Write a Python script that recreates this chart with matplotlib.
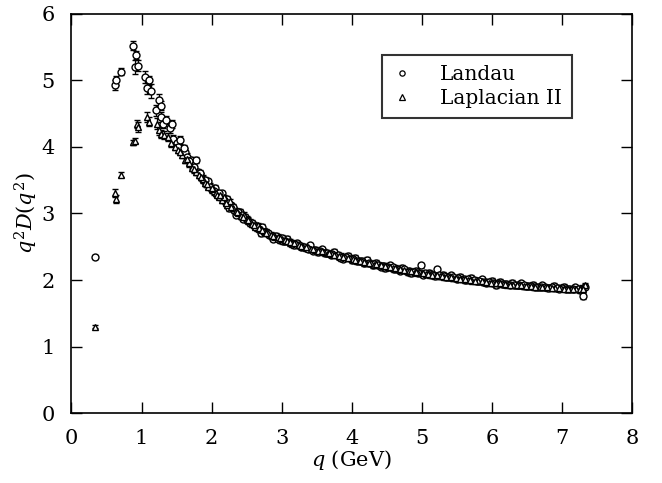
import matplotlib
matplotlib.use("Agg")
import matplotlib.pyplot as plt
from matplotlib.lines import Line2D

plt.rcParams['font.family'] = 'DejaVu Serif'
plt.rcParams['mathtext.fontset'] = 'dejavuserif'

# Landau gauge (circulos)
q_landau = [0.33, 0.62, 0.63, 0.70, 0.88, 0.90, 0.92, 0.95, 1.05, 1.08, 1.10, 1.13,
            1.20, 1.25, 1.27, 1.28, 1.30, 1.35, 1.40, 1.43, 1.45, 1.50, 1.55, 1.58,
            1.62, 1.65, 1.70, 1.72, 1.78, 1.80, 1.85, 1.88, 1.92, 1.95, 2.00, 2.05,
            2.08, 2.12, 2.15, 2.20, 2.22, 2.25, 2.28, 2.32, 2.35, 2.40, 2.45, 2.48,
            2.52, 2.55, 2.60, 2.65, 2.70, 2.72, 2.78, 2.82, 2.88, 2.92, 2.98, 3.02,
            3.08, 3.12, 3.18, 3.22, 3.28, 3.35, 3.40, 3.45, 3.52, 3.58, 3.62, 3.70,
            3.75, 3.82, 3.88, 3.95, 4.00, 4.05, 4.12, 4.18, 4.22, 4.30, 4.35, 4.42,
            4.48, 4.55, 4.60, 4.68, 4.72, 4.80, 4.85, 4.92, 4.98, 5.02, 5.10, 5.18,
            5.22, 5.30, 5.35, 5.42, 5.50, 5.55, 5.62, 5.70, 5.78, 5.85, 5.92, 6.00,
            6.05, 6.12, 6.20, 6.28, 6.35, 6.42, 6.50, 6.58, 6.65, 6.72, 6.80, 6.88,
            6.95, 7.02, 7.10, 7.18, 7.25, 7.30, 7.32]
d_landau = [2.35, 4.93, 5.00, 5.13, 5.52, 5.20, 5.38, 5.22, 5.05, 4.88, 5.00, 4.84,
            4.55, 4.70, 4.62, 4.45, 4.35, 4.40, 4.28, 4.35, 4.12, 4.05, 4.10, 3.95,
            3.92, 3.85, 3.80, 3.72, 3.80, 3.62, 3.55, 3.50, 3.45, 3.48, 3.35, 3.38,
            3.28, 3.25, 3.30, 3.15, 3.22, 3.08, 3.12, 3.05, 2.98, 3.02, 2.92, 2.95,
            2.88, 2.85, 2.82, 2.78, 2.70, 2.80, 2.72, 2.68, 2.62, 2.66, 2.60, 2.58,
            2.62, 2.55, 2.52, 2.55, 2.50, 2.48, 2.52, 2.44, 2.42, 2.46, 2.40, 2.38,
            2.42, 2.35, 2.32, 2.36, 2.30, 2.33, 2.28, 2.25, 2.30, 2.22, 2.26, 2.20,
            2.18, 2.22, 2.16, 2.14, 2.18, 2.12, 2.10, 2.14, 2.22, 2.08, 2.11, 2.06,
            2.16, 2.08, 2.04, 2.07, 2.02, 2.05, 2.00, 2.03, 1.98, 2.01, 1.96, 1.99,
            1.92, 1.97, 1.94, 1.96, 1.92, 1.95, 1.91, 1.93, 1.89, 1.92, 1.88, 1.91,
            1.87, 1.90, 1.86, 1.89, 1.85, 1.76, 1.90]
e_landau = [0.03, 0.08, 0.07, 0.05, 0.07, 0.10, 0.06, 0.08, 0.09, 0.08, 0.07, 0.10,
            0.08, 0.09, 0.07, 0.08, 0.07, 0.06, 0.07, 0.06, 0.06, 0.07, 0.06, 0.05,
            0.06, 0.05, 0.05, 0.05, 0.05, 0.05, 0.05, 0.04, 0.05, 0.04, 0.05, 0.04] + [0.04] * 91

# Landau, segundo conjunto de momentos (zona densa)
q_landau_2 = [1.52, 1.60, 1.68, 1.75, 1.83, 1.90, 1.98, 2.03, 2.10, 2.18, 2.24, 2.30,
              2.38, 2.43, 2.50, 2.58, 2.63, 2.68, 2.75, 2.80, 2.86, 2.95, 3.00, 3.05,
              3.15, 3.25, 3.32, 3.38, 3.48, 3.55, 3.65, 3.72, 3.80, 3.85, 3.92, 4.02,
              4.08, 4.15, 4.25, 4.32, 4.38, 4.45, 4.52, 4.58, 4.65, 4.75, 4.82, 4.88,
              4.95, 5.05, 5.12, 5.15, 5.25, 5.32, 5.38, 5.45, 5.52, 5.60, 5.66, 5.74,
              5.82, 5.88, 5.96, 6.02, 6.08, 6.15, 6.25, 6.32, 6.38, 6.46, 6.55, 6.62,
              6.70, 6.76, 6.85, 6.92, 7.00, 7.06, 7.15, 7.22, 7.28]
d_landau_2 = [4.00, 3.98, 3.78, 3.70, 3.60, 3.50, 3.40, 3.33, 3.30, 3.20, 3.15, 3.10,
              3.02, 2.97, 2.90, 2.86, 2.80, 2.76, 2.72, 2.70, 2.66, 2.62, 2.63, 2.58,
              2.54, 2.52, 2.49, 2.47, 2.45, 2.43, 2.41, 2.39, 2.38, 2.33, 2.34, 2.32,
              2.29, 2.28, 2.26, 2.24, 2.23, 2.21, 2.20, 2.19, 2.17, 2.16, 2.14, 2.12,
              2.11, 2.10, 2.09, 2.07, 2.07, 2.06, 2.05, 2.04, 2.03, 2.02, 2.01, 2.00,
              1.99, 1.97, 1.97, 1.96, 1.95, 1.94, 1.93, 1.93, 1.92, 1.92, 1.91, 1.90,
              1.90, 1.89, 1.89, 1.88, 1.88, 1.87, 1.87, 1.87, 1.86]
e_landau_2 = [0.05] * 8 + [0.04] * 73

# Laplacian II gauge (triangulos)
q_lapl = [0.33, 0.62, 0.63, 0.70, 0.88, 0.90, 0.93, 0.95, 1.08, 1.10, 1.22, 1.25,
          1.28, 1.32, 1.38, 1.42, 1.48, 1.52, 1.58, 1.62, 1.68, 1.72, 1.78, 1.82,
          1.88, 1.90, 1.95, 2.02, 2.06, 2.10, 2.15, 2.18, 2.22, 2.26, 2.30, 2.34,
          2.38, 2.42, 2.46, 2.50, 2.55, 2.58, 2.62, 2.66, 2.70, 2.75, 2.80, 2.85,
          2.90, 2.95, 3.00, 3.05, 3.10, 3.15, 3.20, 3.25, 3.30, 3.38, 3.42, 3.48,
          3.55, 3.60, 3.66, 3.72, 3.78, 3.85, 3.90, 3.98, 4.02, 4.08, 4.15, 4.20,
          4.28, 4.32, 4.40, 4.45, 4.52, 4.58, 4.65, 4.70, 4.78, 4.82, 4.90, 4.95,
          5.00, 5.06, 5.12, 5.20, 5.26, 5.32, 5.38, 5.45, 5.52, 5.58, 5.65, 5.72,
          5.80, 5.88, 5.95, 6.02, 6.08, 6.15, 6.22, 6.30, 6.38, 6.45, 6.52, 6.60,
          6.68, 6.75, 6.82, 6.90, 6.98, 7.05, 7.12, 7.20, 7.28, 7.32]
d_lapl = [1.30, 3.30, 3.22, 3.58, 4.07, 4.09, 4.35, 4.30, 4.45, 4.38, 4.35, 4.25,
          4.20, 4.18, 4.15, 4.05, 4.00, 3.95, 3.88, 3.80, 3.75, 3.68, 3.62, 3.58,
          3.52, 3.45, 3.40, 3.36, 3.30, 3.25, 3.20, 3.24, 3.12, 3.18, 3.08, 3.04,
          3.00, 2.96, 2.98, 2.92, 2.88, 2.84, 2.80, 2.82, 2.76, 2.74, 2.70, 2.68,
          2.64, 2.65, 2.62, 2.60, 2.58, 2.56, 2.55, 2.52, 2.50, 2.50, 2.46, 2.45,
          2.44, 2.42, 2.40, 2.39, 2.37, 2.36, 2.34, 2.33, 2.31, 2.29, 2.28, 2.26,
          2.25, 2.23, 2.22, 2.21, 2.19, 2.18, 2.17, 2.15, 2.14, 2.13, 2.12, 2.11,
          2.10, 2.09, 2.08, 2.07, 2.06, 2.05, 2.04, 2.03, 2.02, 2.01, 2.00, 1.99,
          1.98, 1.97, 1.96, 1.96, 1.95, 1.94, 1.93, 1.93, 1.92, 1.91, 1.91, 1.90,
          1.90, 1.89, 1.89, 1.88, 1.88, 1.87, 1.87, 1.86, 1.88, 1.92]
e_lapl = [0.02, 0.06, 0.06, 0.04, 0.04, 0.04, 0.06, 0.07, 0.08, 0.07, 0.08, 0.07,
          0.06, 0.06, 0.06, 0.06, 0.05, 0.05, 0.05, 0.05, 0.05, 0.05, 0.05, 0.05,
          0.05] + [0.04] * 93

# Laplacian II, segundo conjunto
q_lapl_2 = [1.55, 1.65, 1.75, 1.85, 1.93, 2.00, 2.08, 2.12, 2.20, 2.28, 2.36, 2.44,
            2.52, 2.60, 2.68, 2.72, 2.78, 2.88, 2.98, 3.08, 3.12, 3.18, 3.28, 3.35,
            3.45, 3.52, 3.58, 3.68, 3.75, 3.82, 3.88, 3.95, 4.05, 4.12, 4.18, 4.25,
            4.35, 4.42, 4.48, 4.55, 4.62, 4.68, 4.75, 4.85, 4.92, 5.02, 5.08, 5.15,
            5.22, 5.28, 5.35, 5.42, 5.48, 5.55, 5.62, 5.68, 5.75, 5.85, 5.92, 5.98,
            6.05, 6.12, 6.18, 6.25, 6.35, 6.42, 6.48, 6.55, 6.62, 6.72, 6.78, 6.85,
            6.95, 7.02, 7.08, 7.15, 7.25, 7.30]
d_lapl_2 = [3.92, 3.82, 3.66, 3.55, 3.44, 3.38, 3.28, 3.27, 3.16, 3.10, 3.02, 2.95,
            2.90, 2.83, 2.78, 2.75, 2.71, 2.66, 2.63, 2.59, 2.57, 2.55, 2.51, 2.49,
            2.46, 2.44, 2.43, 2.40, 2.38, 2.36, 2.35, 2.33, 2.30, 2.29, 2.27, 2.25,
            2.24, 2.22, 2.21, 2.19, 2.18, 2.16, 2.15, 2.13, 2.12, 2.10, 2.09, 2.08,
            2.07, 2.06, 2.05, 2.04, 2.03, 2.02, 2.01, 2.00, 1.99, 1.98, 1.97, 1.96,
            1.95, 1.95, 1.94, 1.93, 1.92, 1.92, 1.91, 1.91, 1.90, 1.89, 1.89, 1.88,
            1.88, 1.87, 1.87, 1.86, 1.86, 1.87]
e_lapl_2 = [0.05] * 6 + [0.04] * 72

fig = plt.figure(figsize=(6.62, 4.83), dpi=100)
ax = fig.add_axes([0.108, 0.144, 0.847, 0.828])

estilo = dict(ls='none', color='black', mfc='white', mec='black', mew=1.0,
              ms=5, elinewidth=0.9, capsize=2.4, capthick=0.9)
ax.errorbar(q_landau, d_landau, yerr=e_landau, fmt='o', **estilo)
ax.errorbar(q_landau_2, d_landau_2, yerr=e_landau_2, fmt='o', **estilo)
ax.errorbar(q_lapl, d_lapl, yerr=e_lapl, fmt='^', **estilo)
ax.errorbar(q_lapl_2, d_lapl_2, yerr=e_lapl_2, fmt='^', **estilo)

ax.set_xlim(0, 8)
ax.set_ylim(0, 6)
ax.set_xticks(range(0, 9))
ax.set_yticks(range(0, 7))
ax.tick_params(direction='in', length=8, width=1, top=True, right=True,
               labelsize=15)
ax.tick_params(axis='x', pad=11)
ax.tick_params(axis='y', pad=12)
for s in ax.spines.values():
    s.set_linewidth(1.2)

ax.set_xlabel(r'$q$ (GeV)', fontsize=15, labelpad=0)
ax.set_ylabel(r'$q^2D(q^2)$', fontsize=15, labelpad=1)

handles = [Line2D([], [], ls='none', marker='o', ms=3.8, mfc='white', mec='black', mew=0.9),
           Line2D([], [], ls='none', marker='^', ms=3.8, mfc='white', mec='black', mew=0.9)]
leg = ax.legend(handles, ['Landau', 'Laplacian II'], loc='upper left',
                bbox_to_anchor=(0.553, 0.896), fontsize=14.5, frameon=True,
                fancybox=False, edgecolor='black', handlelength=1.0,
                handletextpad=1.4, borderpad=0.5, labelspacing=0.25,
                borderaxespad=0)
leg.get_frame().set_linewidth(1.5)

fig.savefig('out.png', dpi=100)
